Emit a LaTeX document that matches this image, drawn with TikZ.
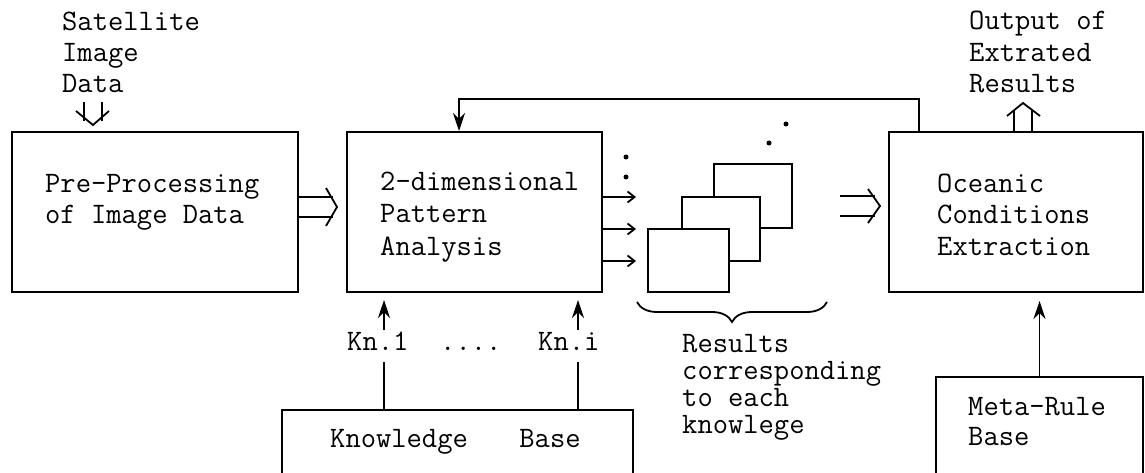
\documentclass[tikz,border=0pt]{standalone}
\usepackage{fontspec}
\usetikzlibrary{arrows.meta,decorations.pathreplacing}
\newcommand{\tfs}[1]{\ttfamily\fontsize{29.7}{#1}\selectfont}
\begin{document}
\begin{tikzpicture}[x=1pt,y=-1pt,
  box/.style={draw, line width=2pt, inner sep=0pt, rectangle, fill=white},
  txt/.style={anchor=base west, align=left, inner sep=0pt},
  ln/.style={line width=1.8pt},
  stl/.style={-{Stealth[length=18pt,width=12pt,inset=6pt]}},
  barb/.style={-{Straight Barb[length=7pt,width=11pt]}},
  dotmark/.style={fill, circle, inner sep=0pt, minimum size=5pt}]
\useasboundingbox (0,0) rectangle (1145,473);

% main boxes
\node[box, minimum width=286pt, minimum height=160pt] (pre) at (155,212) {};
\node[box, minimum width=255pt, minimum height=160pt] (ana) at (474.5,212) {};
\node[box, minimum width=254pt, minimum height=160pt] (oce) at (1016,212) {};
\node[box, minimum width=351pt, minimum height=70pt] (kb) at (457.5,445) {};
\node[box, minimum width=207pt, minimum height=103pt] (meta) at (1039.5,428.5) {};

% stacked result boxes
\node[box, minimum width=78pt, minimum height=64pt] (r3) at (753,196) {};
\node[box, minimum width=78pt, minimum height=64pt] (r2) at (721,229) {};
\node[box, minimum width=81pt, minimum height=63pt] (r1) at (688.5,260.5) {};

% texts (base anchor = last line's baseline)
\node[txt, font=\tfs{31}] (sat) at (62,93) {Satellite\\Image\\Data};
\node[txt, font=\tfs{31.5}] (out) at (969,93) {Output of\\Extrated\\Results};
\node[txt, font=\tfs{31}] (pret) at (45,223) {Pre-Processing\\of Image Data};
\node[txt, font=\tfs{32.5}] (anat) at (380,255) {2-dimensional\\Pattern\\Analysis};
\node[txt, font=\tfs{31.5}] (ocet) at (937,255) {Oceanic\\Conditions\\Extraction};
\node[txt, font=\tfs{27}] (rest) at (682,433) {Results\\corresponding\\to each\\knowlege};
\node[txt, font=\tfs{31}] (kn1) at (347,350) {Kn.1};
\node[txt, font=\tfs{31}] (kndots) at (440,350) {....};
\node[txt, font=\tfs{31}] (kni) at (538,350) {Kn.i};
\node[txt, font=\tfs{31}] (kbt) at (330,447) {Knowledge\hspace{51.6pt}Base};
\node[txt, font=\tfs{30}] (metat) at (968,445) {Meta-Rule\\Base};

% dots
\node[dotmark] (d1) at (626,157) {};
\node[dotmark] (d2) at (626,177) {};
\node[dotmark] (d3) at (769,143) {};
\node[dotmark] (d4) at (786,124) {};

% input double arrow
\draw[ln] (84,102) -- (84,121) (102,102) -- (102,121);
\draw[ln, line join=miter] (76,111) -- (93,125) -- (109,111);

% output double arrow
\draw[ln] (1014,131) -- (1014,110) (1032,131) -- (1032,110);
\draw[ln, line join=miter] (1007,116) -- (1023,103) -- (1040,116);

% pre -> ana double arrow
\draw[ln] (pre.east |- 0,197) -- (333,197) (pre.east |- 0,217) -- (333,217);
\draw[ln, line join=miter] (326,188) -- (337,207) -- (326,226);

% results -> oce double arrow
\draw[ln] (840,196) -- (875,196) (840,216) -- (875,216);
\draw[ln, line join=miter] (868,189) -- (880,206) -- (868,223);

% small arrows from analysis
\draw[ln,barb] ([yshift=15pt]ana.east) -- ++(33,0);
\draw[ln,barb] ([yshift=-17pt]ana.east) -- ++(33,0);
\draw[ln,barb] ([yshift=-49pt]ana.east) -- ++(33,0);

% feedback
\draw[ln,stl] ([xshift=31pt]oce.north west) -- ++(0,-32) -| ([xshift=113pt]ana.north west);

% knowledge arrows
\coordinate (k1t) at (384,330); \coordinate (k1b) at (384,362);
\coordinate (kit) at (578,330); \coordinate (kib) at (578,362);
\draw[ln] (kb.north -| k1b) -- (k1b);
\draw[ln] (kb.north -| kib) -- (kib);
\draw[ln,stl,shorten >=7pt] (k1t) -- (ana.south -| k1t);
\draw[ln,stl,shorten >=7pt] (kit) -- (ana.south -| kit);

% meta arrow
\draw[ln,stl,shorten >=8pt] (meta.north) -- (meta.north |- oce.south);

% brace
\draw[ln, decorate, decoration={brace, amplitude=20pt}] (827,302) -- (637,302);
\end{tikzpicture}
\end{document}
